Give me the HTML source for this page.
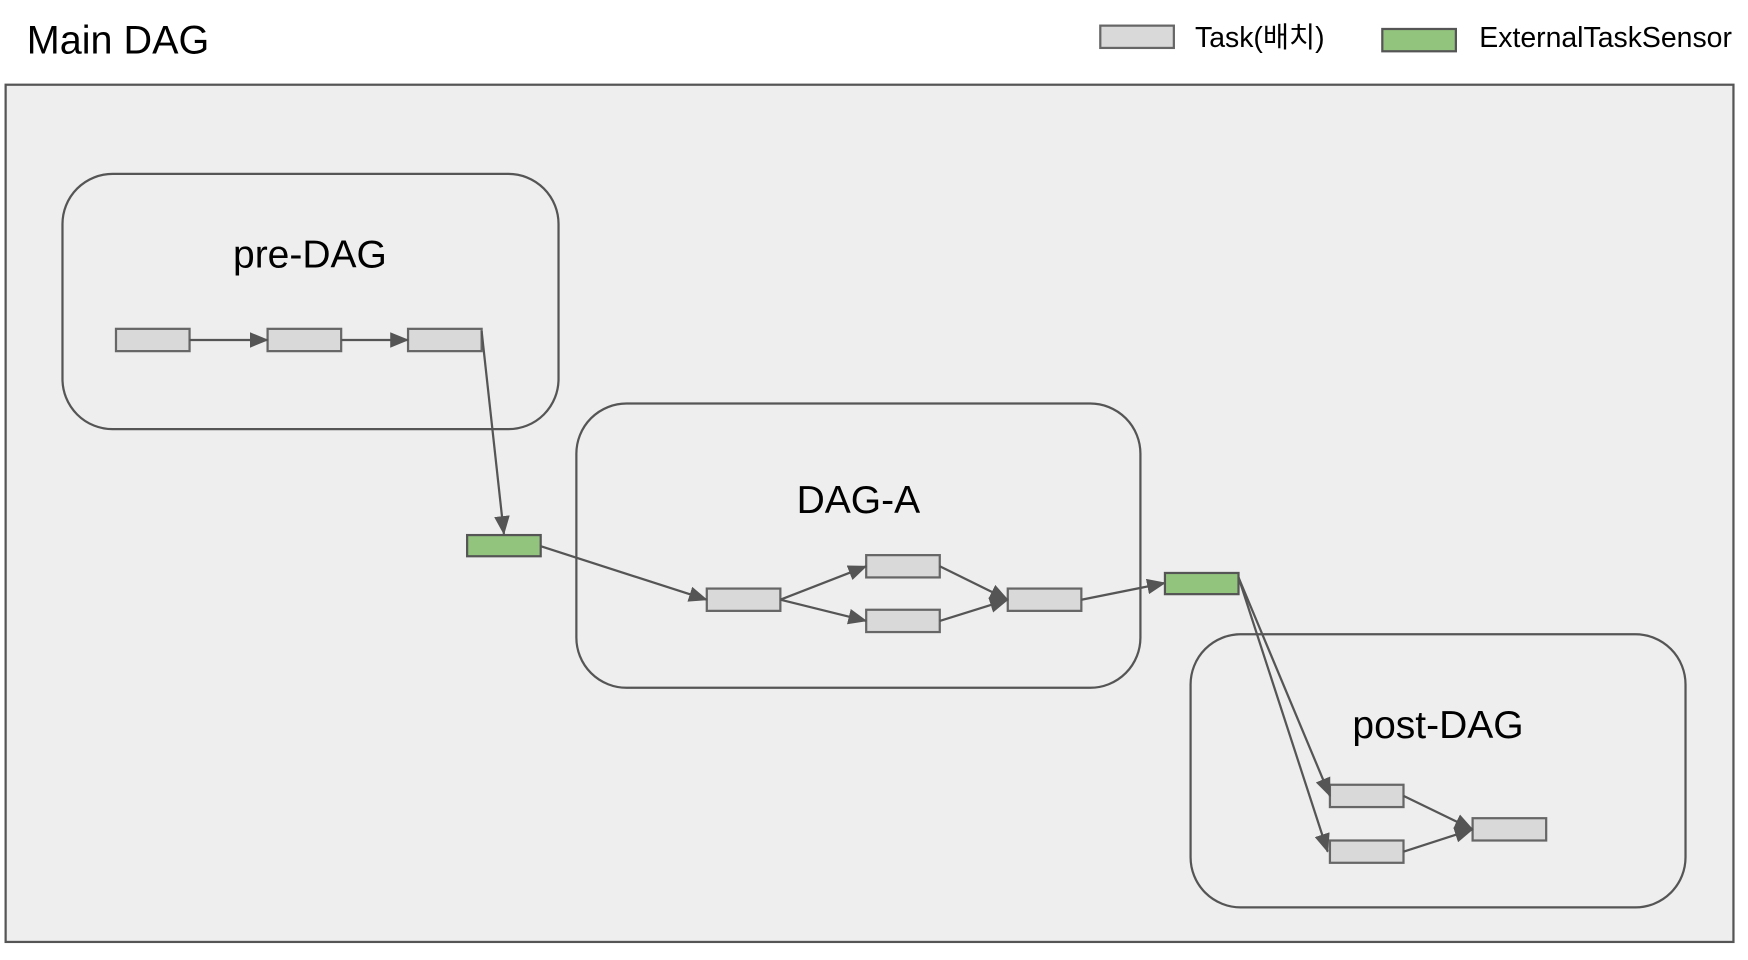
<!DOCTYPE html>
<html><head><meta charset="utf-8"><style>html,body{margin:0;padding:0;background:#fff}svg{display:block}</style></head>
<body>
<svg width="1748" height="960" viewBox="0 0 1568 861.2" xmlns="http://www.w3.org/2000/svg" font-family="Liberation Sans, Noto Sans CJK KR, sans-serif">
<defs>
<marker id="a" markerWidth="17" markerHeight="14" refX="16" refY="7" orient="auto" markerUnits="userSpaceOnUse">
<path d="M0,0 L17,7 L0,14 z" fill="#555"/>
</marker>
</defs>
<text x="24" y="48" font-size="35.5" fill="#000">Main DAG</text>
<rect x="987" y="23" width="66" height="20" fill="#d9d9d9" stroke="#666" stroke-width="2"/>
<text x="1072" y="42" font-size="25.5" fill="#000">Task(배치)</text>
<rect x="1240" y="26" width="66" height="20" fill="#93c47d" stroke="#555" stroke-width="2"/>
<text x="1327" y="42" font-size="25.5" fill="#000">ExternalTaskSensor</text>
<rect x="5" y="76" width="1550" height="769" fill="#eeeeee" stroke="#555" stroke-width="2"/>
<g fill="none" stroke="#555" stroke-width="2">
<rect x="56" y="156" width="445" height="229" rx="45"/>
<rect x="517" y="362" width="506" height="255" rx="45"/>
<rect x="1068" y="569" width="444" height="245" rx="45"/>
</g>
<g font-size="35" fill="#000" text-anchor="middle">
<text x="278" y="240">pre-DAG</text>
<text x="770" y="460">DAG-A</text>
<text x="1290" y="662">post-DAG</text>
</g>
<g fill="#d9d9d9" stroke="#666" stroke-width="2">
<rect x="104" y="295" width="66" height="20"/>
<rect x="240" y="295" width="66" height="20"/>
<rect x="366" y="295" width="66" height="20"/>
<rect x="634" y="528" width="66" height="20"/>
<rect x="777" y="498" width="66" height="20"/>
<rect x="777" y="547" width="66" height="20"/>
<rect x="904" y="528" width="66" height="20"/>
<rect x="1193" y="704" width="66" height="20"/>
<rect x="1193" y="754" width="66" height="20"/>
<rect x="1321" y="734" width="66" height="20"/>
</g>
<g fill="#93c47d" stroke="#555" stroke-width="2">
<rect x="419" y="480" width="66" height="19"/>
<rect x="1045" y="514" width="66" height="19"/>
</g>
<g stroke="#555" stroke-width="2" fill="none" marker-end="url(#a)">
<line x1="170" y1="305" x2="240" y2="305"/>
<line x1="306" y1="305" x2="366" y2="305"/>
<line x1="432" y1="297" x2="452" y2="479"/>
<line x1="485" y1="490" x2="634" y2="538"/>
<line x1="700" y1="538" x2="777" y2="508"/>
<line x1="700" y1="538" x2="777" y2="557"/>
<line x1="843" y1="508" x2="904" y2="538"/>
<line x1="843" y1="557" x2="904" y2="538"/>
<line x1="970" y1="538" x2="1045" y2="523"/>
<line x1="1111" y1="518" x2="1193" y2="714"/>
<line x1="1111" y1="518" x2="1191" y2="764"/>
<line x1="1259" y1="714" x2="1321" y2="744"/>
<line x1="1259" y1="764" x2="1321" y2="744"/>
</g>
</svg>
</body></html>
